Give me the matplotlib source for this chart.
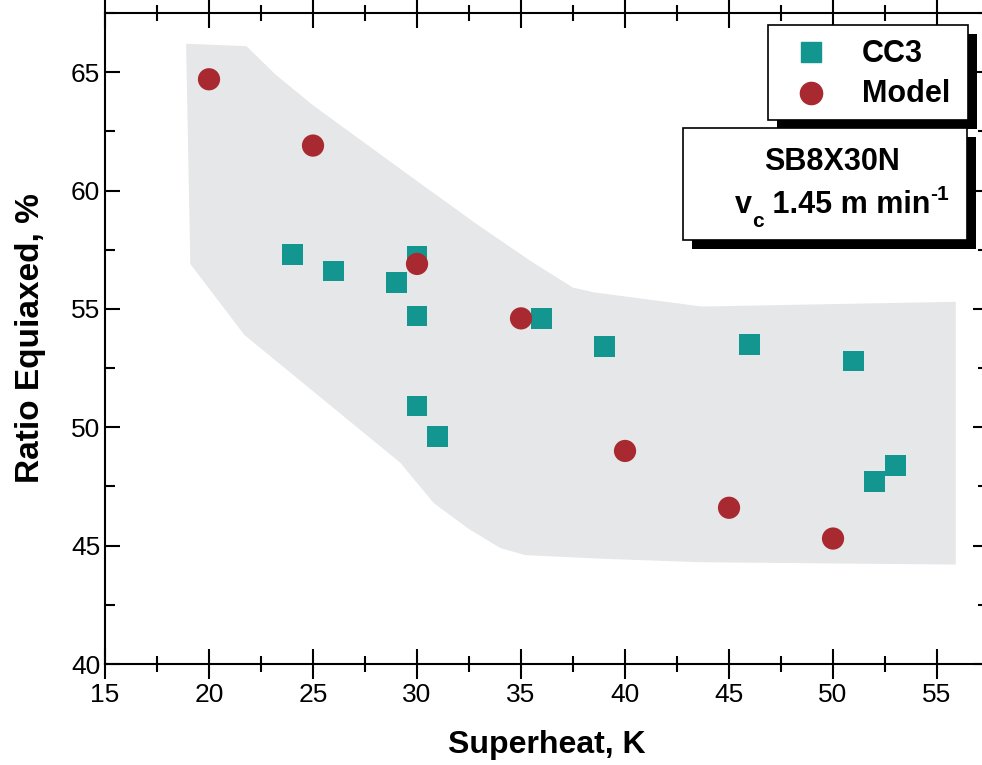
import matplotlib.pyplot as plt
from matplotlib.patches import Rectangle, Polygon
from matplotlib.lines import Line2D
from matplotlib.ticker import MultipleLocator

plt.rcParams['font.family'] = ['Liberation Sans', 'DejaVu Sans']

# CC3 measurements
cc3_x = [24, 26, 29, 30, 30, 30, 31, 36, 39, 46, 51, 52, 53]
cc3_y = [57.3, 56.6, 56.1, 57.2, 54.7, 50.9, 49.6, 54.6, 53.4, 53.5, 52.8, 47.7, 48.4]

# Model predictions
model_x = [20, 25, 30, 35, 40, 45, 50]
model_y = [64.7, 61.9, 56.9, 54.6, 49.0, 46.6, 45.3]

# grey scatter band outline
band_x = [18.9, 21.8, 23.2, 25.0, 27.5, 30.0, 33.0, 35.5, 37.5, 38.5, 43.7, 55.9,
          55.9, 43.6, 38.8, 35.2, 34.0, 32.5, 30.8, 29.2, 21.7, 19.1]
band_y = [66.2, 66.1, 64.9, 63.6, 62.0, 60.4, 58.5, 57.0, 55.9, 55.7, 55.1, 55.3,
          44.2, 44.3, 44.45, 44.6, 44.9, 45.7, 46.8, 48.5, 53.9, 56.9]

teal = '#149690'
red = '#a8292f'

W, H = 982, 765
fig = plt.figure(figsize=(9.82, 7.65), dpi=100)
ax = fig.add_axes([105 / W, 1 - 664 / H, (988 - 105) / W, (664 - 13) / H])

ax.add_patch(Polygon(list(zip(band_x, band_y)), closed=True,
                     facecolor='#e6e7e8', edgecolor='none', zorder=1))
ax.scatter(cc3_x, cc3_y, marker='s', s=15 ** 2, color=teal, edgecolors='none', zorder=3)
ax.scatter(model_x, model_y, marker='o', s=16 ** 2, color=red, edgecolors='none', zorder=4)

ax.set_xlim(15, 57.45)
ax.set_ylim(40, 67.5)
ax.xaxis.set_major_locator(MultipleLocator(5))
ax.xaxis.set_minor_locator(MultipleLocator(2.5))
ax.yaxis.set_major_locator(MultipleLocator(5))
ax.yaxis.set_minor_locator(MultipleLocator(2.5))
for s in ax.spines.values():
    s.set_linewidth(1.5)
ax.tick_params(axis='both', which='both', direction='in', top=True, right=True,
               width=1.5, labelsize=19)
ax.tick_params(axis='both', which='major', length=11)
ax.tick_params(axis='both', which='minor', length=7)
ax.tick_params(axis='x', which='both', direction='inout')
ax.tick_params(axis='x', which='major', length=22, pad=3)
ax.tick_params(axis='x', which='minor', length=12)

ax.set_xlabel('Superheat, K', fontsize=23, fontweight='bold', labelpad=16)
ax.set_ylabel('Ratio Equiaxed, %', fontsize=24, fontweight='bold', labelpad=18)


def px_box(x0, y0, x1, y1):
    # box with black drop shadow, pixel coords from top-left
    fig.add_artist(Rectangle(((x0 + 9) / W, 1 - (y1 + 9) / H), (x1 - x0) / W, (y1 - y0) / H,
                             transform=fig.transFigure, facecolor='black',
                             edgecolor='none', zorder=10))
    fig.add_artist(Rectangle((x0 / W, 1 - y1 / H), (x1 - x0) / W, (y1 - y0) / H,
                             transform=fig.transFigure, facecolor='white',
                             edgecolor='black', linewidth=1.2, zorder=11))


px_box(768, 25, 968, 120)
px_box(683, 128, 967, 240)

fig.add_artist(Line2D([811 / W], [1 - 52 / H], marker='s', markersize=15, color=teal,
                      linestyle='none', transform=fig.transFigure, zorder=12))
fig.add_artist(Line2D([811 / W], [1 - 93 / H], marker='o', markersize=16, color=red,
                      linestyle='none', transform=fig.transFigure, zorder=12))
fig.text(862 / W, 1 - 62 / H, 'CC3', fontsize=22, fontweight='bold', va='baseline', zorder=12)
fig.text(862 / W, 1 - 102 / H, 'Model', fontsize=22, fontweight='bold', va='baseline', zorder=12)
fig.text(832 / W, 1 - 170 / H, 'SB8X30N', fontsize=22, fontweight='bold',
         ha='center', va='baseline', zorder=12)

# v_c 1.45 m min^-1 built piece by piece
renderer = fig.canvas.get_renderer()
x = 735
pieces = [('v', 22, 213), ('c', 15, 227), (' 1.45 m min', 22, 213), ('-1', 15, 200)]
for txt, size, base in pieces:
    t = fig.text(x / W, 1 - base / H, txt, fontsize=size, fontweight='bold',
                 va='baseline', zorder=12)
    x += t.get_window_extent(renderer).width

fig.savefig('out.png', dpi=100)
